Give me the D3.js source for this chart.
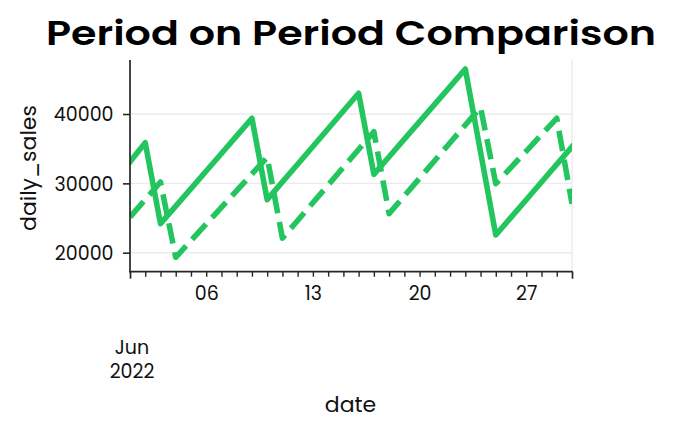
<!DOCTYPE html>
<html>
<head>
<meta charset="utf-8">
<script src="https://cdn.jsdelivr.net/npm/d3@7/dist/d3.min.js"></script>
<style>
  html, body { margin: 0; padding: 0; background: #fff; }
  svg { display: block; }
</style>
</head>
<body>
<svg id="chart" width="674" height="434"></svg>
<script>
// ---- data ----
const dates = [
  "2022-06-01","2022-06-02","2022-06-03","2022-06-04","2022-06-05","2022-06-06",
  "2022-06-07","2022-06-08","2022-06-09","2022-06-10","2022-06-11","2022-06-12",
  "2022-06-13","2022-06-14","2022-06-15","2022-06-16","2022-06-17","2022-06-18",
  "2022-06-19","2022-06-20","2022-06-21","2022-06-22","2022-06-23","2022-06-24",
  "2022-06-25","2022-06-26","2022-06-27","2022-06-28","2022-06-29","2022-06-30"
];
const currentSales = [
  33120, 35860, 24190, 26720, 29250, 31790, 34310, 36850, 39380, 27650,
  30210, 32760, 35320, 37880, 40430, 42990, 31300, 33830, 36370, 38900,
  41430, 43960, 46490, 34520, 22550, 25100, 27640, 30190, 32730, 35280
];
const previousSales = [
  25140, 27660, 30190, 19340, 21740, 24140, 26550, 28950, 31350, 33750,
  22080, 24640, 27200, 29760, 32330, 34890, 37450, 25630, 28190, 30740,
  33300, 35860, 38410, 40970, 29950, 32310, 34660, 37020, 39380, 27070
];
const yTicks = [20000, 30000, 40000];
const xLabelDays = ["2022-06-06", "2022-06-13", "2022-06-20", "2022-06-27"];
const titleText = "Period on Period Comparison";
const xLabel = "date";
const yLabel = "daily_sales";
const offsetLabel = ["Jun", "2022"];

(function () {
// ---- layout ----
const mLeft = 130, mRight = 572, mTop = 60, mBottom = 271.7;
const green = "#22c55e";
const axisColor = "#262626";
const gridColor = "#ebebeb";
const bodyFont = "Poppins, 'DejaVu Sans', sans-serif";
const tickFontSize = "19px";

const parse = d3.utcParse("%Y-%m-%d");
const dateVals = dates.map(parse);

const x = d3.scaleUtc()
  .domain([parse("2022-06-01"), parse("2022-06-30")])
  .range([mLeft, mRight]);
const y = d3.scaleLinear()
  .domain([17260, 47790])
  .range([mBottom, mTop]);

const svg = d3.select("#chart");

svg.append("defs").append("clipPath").attr("id", "plotclip")
  .append("rect").attr("x", mLeft).attr("y", mTop)
  .attr("width", mRight - mLeft).attr("height", mBottom - mTop);

// gridlines
svg.append("g").selectAll("line").data(yTicks).join("line")
  .attr("x1", mLeft).attr("x2", mRight)
  .attr("y1", d => y(d)).attr("y2", d => y(d))
  .attr("stroke", gridColor).attr("stroke-width", 1.4);
svg.append("line")
  .attr("x1", mRight).attr("x2", mRight).attr("y1", mTop).attr("y2", mBottom)
  .attr("stroke", gridColor).attr("stroke-width", 1.4);

// lines
const line = d3.line()
  .x((d, i) => x(dateVals[i]))
  .y(d => y(d));

const plot = svg.append("g").attr("clip-path", "url(#plotclip)");
plot.append("path")
  .datum(previousSales)
  .attr("d", line)
  .attr("fill", "none")
  .attr("stroke", green)
  .attr("stroke-width", 5.56)
  .attr("stroke-dasharray", "20.6,8.9")
  .attr("stroke-linejoin", "round")
  .attr("stroke-linecap", "butt");
plot.append("path")
  .datum(currentSales)
  .attr("d", line)
  .attr("fill", "none")
  .attr("stroke", green)
  .attr("stroke-width", 5.56)
  .attr("stroke-linejoin", "round")
  .attr("stroke-linecap", "square");

// y axis
const yAxis = svg.append("g")
  .attr("transform", `translate(${mLeft},0)`)
  .call(d3.axisLeft(y).tickValues(yTicks).tickSize(7).tickSizeOuter(0).tickPadding(9.5)
    .tickFormat(d3.format("d")));
yAxis.select(".domain").remove();
yAxis.selectAll(".tick line").attr("stroke", axisColor).attr("stroke-width", 1.6);
yAxis.selectAll(".tick text")
  .attr("fill", "#111").style("font-family", bodyFont).style("font-size", tickFontSize)
  .attr("dy", "0.36em");

// x axis
const labelSet = new Set(xLabelDays);
const fmtKey = d3.utcFormat("%Y-%m-%d");
const xAxis = svg.append("g")
  .attr("transform", `translate(0,${mBottom})`)
  .call(d3.axisBottom(x).tickValues(dateVals).tickSize(5).tickSizeOuter(0).tickPadding(10)
    .tickFormat(d => labelSet.has(fmtKey(d)) ? d3.utcFormat("%d")(d) : ""));
xAxis.select(".domain").remove();
xAxis.selectAll(".tick line").attr("stroke", axisColor).attr("stroke-width", 1.4);
xAxis.selectAll(".tick text")
  .attr("fill", "#111").style("font-family", bodyFont).style("font-size", tickFontSize);
xAxis.selectAll(".tick line").filter((d, i, n) => i === 0 || i === n.length - 1)
  .attr("y2", 7).attr("stroke-width", 1.7);

// spines
svg.append("line").attr("x1", mLeft).attr("x2", mLeft).attr("y1", mTop).attr("y2", mBottom + 0.8)
  .attr("stroke", axisColor).attr("stroke-width", 1.7);
svg.append("line").attr("x1", mLeft - 0.8).attr("x2", mRight + 0.8).attr("y1", mBottom).attr("y2", mBottom)
  .attr("stroke", axisColor).attr("stroke-width", 1.7);

// offset label "Jun 2022"
const off = svg.append("text")
  .attr("x", 132).attr("y", 354.3)
  .attr("text-anchor", "middle")
  .attr("fill", "#111")
  .style("font-family", bodyFont).style("font-size", tickFontSize);
off.selectAll("tspan").data(offsetLabel).join("tspan")
  .attr("x", 132).attr("dy", (d, i) => i === 0 ? 0 : 24)
  .text(d => d);

// axis labels
svg.append("text")
  .attr("x", 350.5).attr("y", 412.3)
  .attr("text-anchor", "middle")
  .attr("fill", "#111")
  .style("font-family", bodyFont).style("font-size", "22px")
  .text(xLabel);

svg.append("text")
  .attr("transform", "translate(36,168) rotate(-90)")
  .attr("text-anchor", "middle")
  .attr("fill", "#111")
  .style("font-family", bodyFont).style("font-size", "22px")
  .text(yLabel);

// title
svg.append("text")
  .attr("x", 351).attr("y", 45)
  .attr("text-anchor", "middle")
  .attr("fill", "#000")
  .attr("textLength", 610).attr("lengthAdjust", "spacingAndGlyphs")
  .style("font-family", "Poppins, 'Open Sans', sans-serif")
  .style("font-weight", "600")
  .style("font-size", "33px")
  .text(titleText);
})();
</script>
</body>
</html>
